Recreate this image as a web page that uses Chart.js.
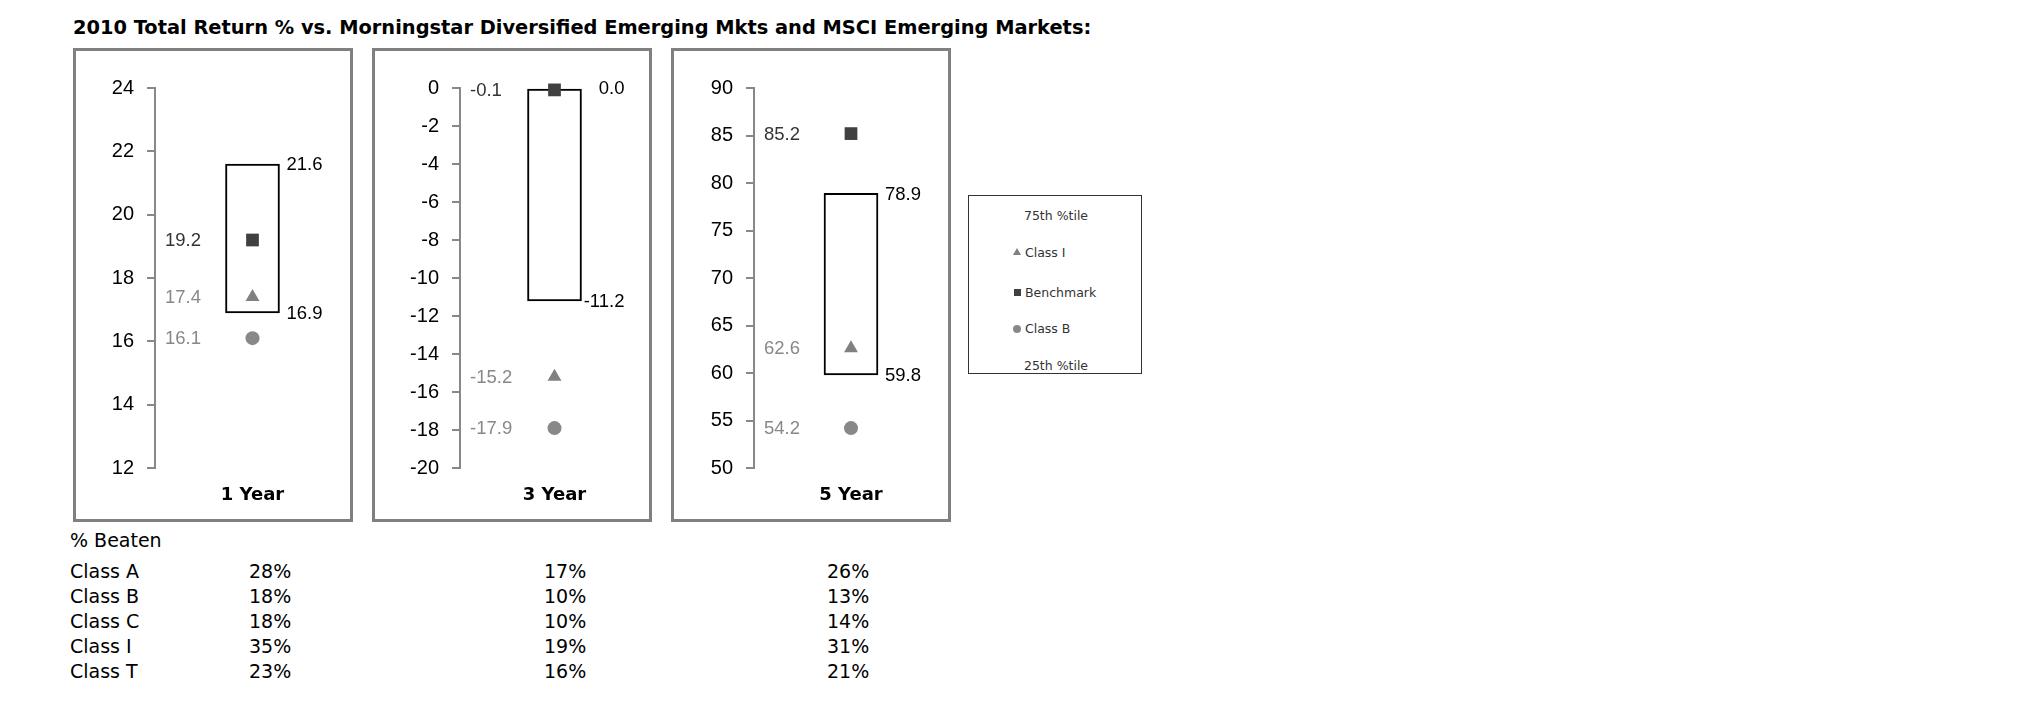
<!DOCTYPE html>
<html>
<head>
<meta charset="utf-8">
<script src="https://cdn.jsdelivr.net/npm/chart.js@4.4.1/dist/chart.umd.min.js"></script>
<style>
  body { margin: 0; background: #fff; width: 2025px; height: 717px; position: relative; overflow: hidden; font-family: 'DejaVu Sans', sans-serif; }
  .title { position: absolute; left: 73px; top: 16px; font-weight: bold; font-size: 19.4px; line-height: 24px; white-space: nowrap; color: #000; }
  .panel { position: absolute; top: 48px; width: 280px; height: 474px; border: 3px solid #808080; box-sizing: border-box; background: #fff; }
  .panel canvas { display: block; }
  .txt { position: absolute; font-size: 19px; line-height: 24px; white-space: nowrap; color: #000; }
  .legend { position: absolute; left: 968px; top: 195px; width: 174px; height: 179px; border: 1px solid #333; box-sizing: border-box; font-size: 12.5px; color: #333; }
  .lg { position: absolute; line-height: 15px; white-space: nowrap; }
  .mk { position: absolute; }
</style>
</head>
<body>
<div class="title">2010 Total Return % vs. Morningstar Diversified Emerging Mkts and MSCI Emerging Markets:</div>

<div class="legend">
  <div class="lg" style="left:0;width:174px;text-align:center;top:12px;">75th %tile</div>
  <div class="mk" style="left:44px;top:52px;width:0;height:0;border-left:4px solid transparent;border-right:4px solid transparent;border-bottom:7px solid #808080;"></div>
  <div class="lg" style="left:56px;top:49px;">Class I</div>
  <div class="mk" style="left:45px;top:93px;width:7px;height:7px;background:#404040;"></div>
  <div class="lg" style="left:56px;top:89px;">Benchmark</div>
  <div class="mk" style="left:44px;top:129px;width:8px;height:8px;border-radius:50%;background:#888;"></div>
  <div class="lg" style="left:56px;top:125px;">Class B</div>
  <div class="lg" style="left:0;width:174px;text-align:center;top:162px;">25th %tile</div>
</div>

<script>
// chart data
const periods = ['1 Year', '3 Year', '5 Year'];
const pct75 = [21.6, 0.0, 78.9];
const pct25 = [16.9, -11.2, 59.8];
const benchmark = [19.2, -0.1, 85.2];
const classI = [17.4, -15.2, 62.6];
const classB = [16.1, -17.9, 54.2];
const axisMin = [12, -20, 50];
const axisMax = [24, 0, 90];
const axisStep = [2, 2, 5];

// % beaten table
const beatenClasses = ['Class A', 'Class B', 'Class C', 'Class I', 'Class T'];
const beaten1Y = [28, 18, 18, 35, 23];
const beaten3Y = [17, 10, 10, 19, 16];
const beaten5Y = [26, 13, 14, 31, 21];

// layout
const panelLefts = [73, 372, 671];
const axisWidths = [79, 85, 80];

Chart.defaults.font.family = 'Liberation Sans';
Chart.defaults.animation = false;

function labelPlugin(i) {
  return {
    id: 'valueLabels' + i,
    afterDatasetsDraw(chart) {
      const ctx = chart.ctx;
      const y = chart.scales.y;
      const bar = chart.getDatasetMeta(3).data[0];
      const right = bar.x + bar.width / 2;
      const left = chart.chartArea.left + 10;
      ctx.save();
      ctx.font = '18.5px "Liberation Sans"';
      ctx.textBaseline = 'middle';
      // quartile labels, right of the box
      ctx.textAlign = 'right';
      ctx.fillStyle = '#000';
      [pct75[i], pct25[i]].forEach(v => {
        ctx.fillText(v.toFixed(1), right + 43, y.getPixelForValue(v) + 1);
      });
      // marker labels, next to the axis
      ctx.textAlign = 'left';
      ctx.fillStyle = '#333';
      ctx.fillText(benchmark[i].toFixed(1), left, y.getPixelForValue(benchmark[i]) + 1);
      ctx.fillStyle = '#888';
      ctx.fillText(classI[i].toFixed(1), left, y.getPixelForValue(classI[i]) + 1);
      ctx.fillText(classB[i].toFixed(1), left, y.getPixelForValue(classB[i]) + 1);
      ctx.restore();
    }
  };
}

function buildPanel(i) {
  const wrap = document.createElement('div');
  wrap.className = 'panel';
  wrap.style.left = panelLefts[i] + 'px';
  const canvas = document.createElement('canvas');
  canvas.width = 274;
  canvas.height = 468;
  wrap.appendChild(canvas);
  document.body.appendChild(wrap);

  const point = (label, value, style, radius, color) => ({
    type: 'line',
    label: label,
    data: [value],
    showLine: false,
    pointStyle: style,
    pointRadius: radius,
    pointBackgroundColor: color,
    pointBorderColor: color,
    pointBorderWidth: 0,
    clip: false,
    order: 1
  });

  new Chart(canvas, {
    type: 'bar',
    data: {
      labels: [periods[i]],
      datasets: [
        point('Benchmark', benchmark[i], 'rect', 9, '#404040'),
        point('Class I', classI[i], 'triangle', 8, '#808080'),
        point('Class B', classB[i], 'circle', 7, '#888888'),
        {
          type: 'bar',
          label: 'Percentile range',
          data: [[pct25[i], pct75[i]]],
          backgroundColor: '#ffffff',
          borderColor: '#000000',
          borderWidth: 2,
          borderSkipped: false,
          barThickness: 54,
          clip: false,
          order: 2
        }
      ]
    },
    options: {
      responsive: false,
      layout: { autoPadding: false, padding: { top: 37, left: 0, right: 0, bottom: 0 } },
      plugins: { legend: { display: false }, tooltip: { enabled: false } },
      scales: {
        x: {
          offset: true,
          grid: { display: false, drawTicks: false },
          border: { display: false },
          ticks: { color: '#000', padding: 17, font: { family: 'DejaVu Sans', size: 18, weight: 'bold' } },
          afterFit(scale) { scale.height = 51; }
        },
        y: {
          min: axisMin[i],
          max: axisMax[i],
          ticks: { stepSize: axisStep[i], color: '#000', padding: 13, font: { size: 20 } },
          grid: { drawOnChartArea: false, drawTicks: true, tickLength: 8, color: '#888', lineWidth: 2 },
          border: { color: '#888', width: 2 },
          afterFit(scale) { scale.width = axisWidths[i]; }
        }
      }
    },
    plugins: [labelPlugin(i)]
  });
}

function renderTable() {
  const add = (text, left, top) => {
    const d = document.createElement('div');
    d.className = 'txt';
    d.style.left = left + 'px';
    d.style.top = top + 'px';
    d.textContent = text;
    document.body.appendChild(d);
  };
  add('% Beaten', 70, 528);
  beatenClasses.forEach((c, k) => {
    const top = 559 + k * 25;
    add(c, 70, top);
    add(beaten1Y[k] + '%', 249, top);
    add(beaten3Y[k] + '%', 544, top);
    add(beaten5Y[k] + '%', 827, top);
  });
}

periods.forEach((p, i) => buildPanel(i));
renderTable();
</script>
</body>
</html>
